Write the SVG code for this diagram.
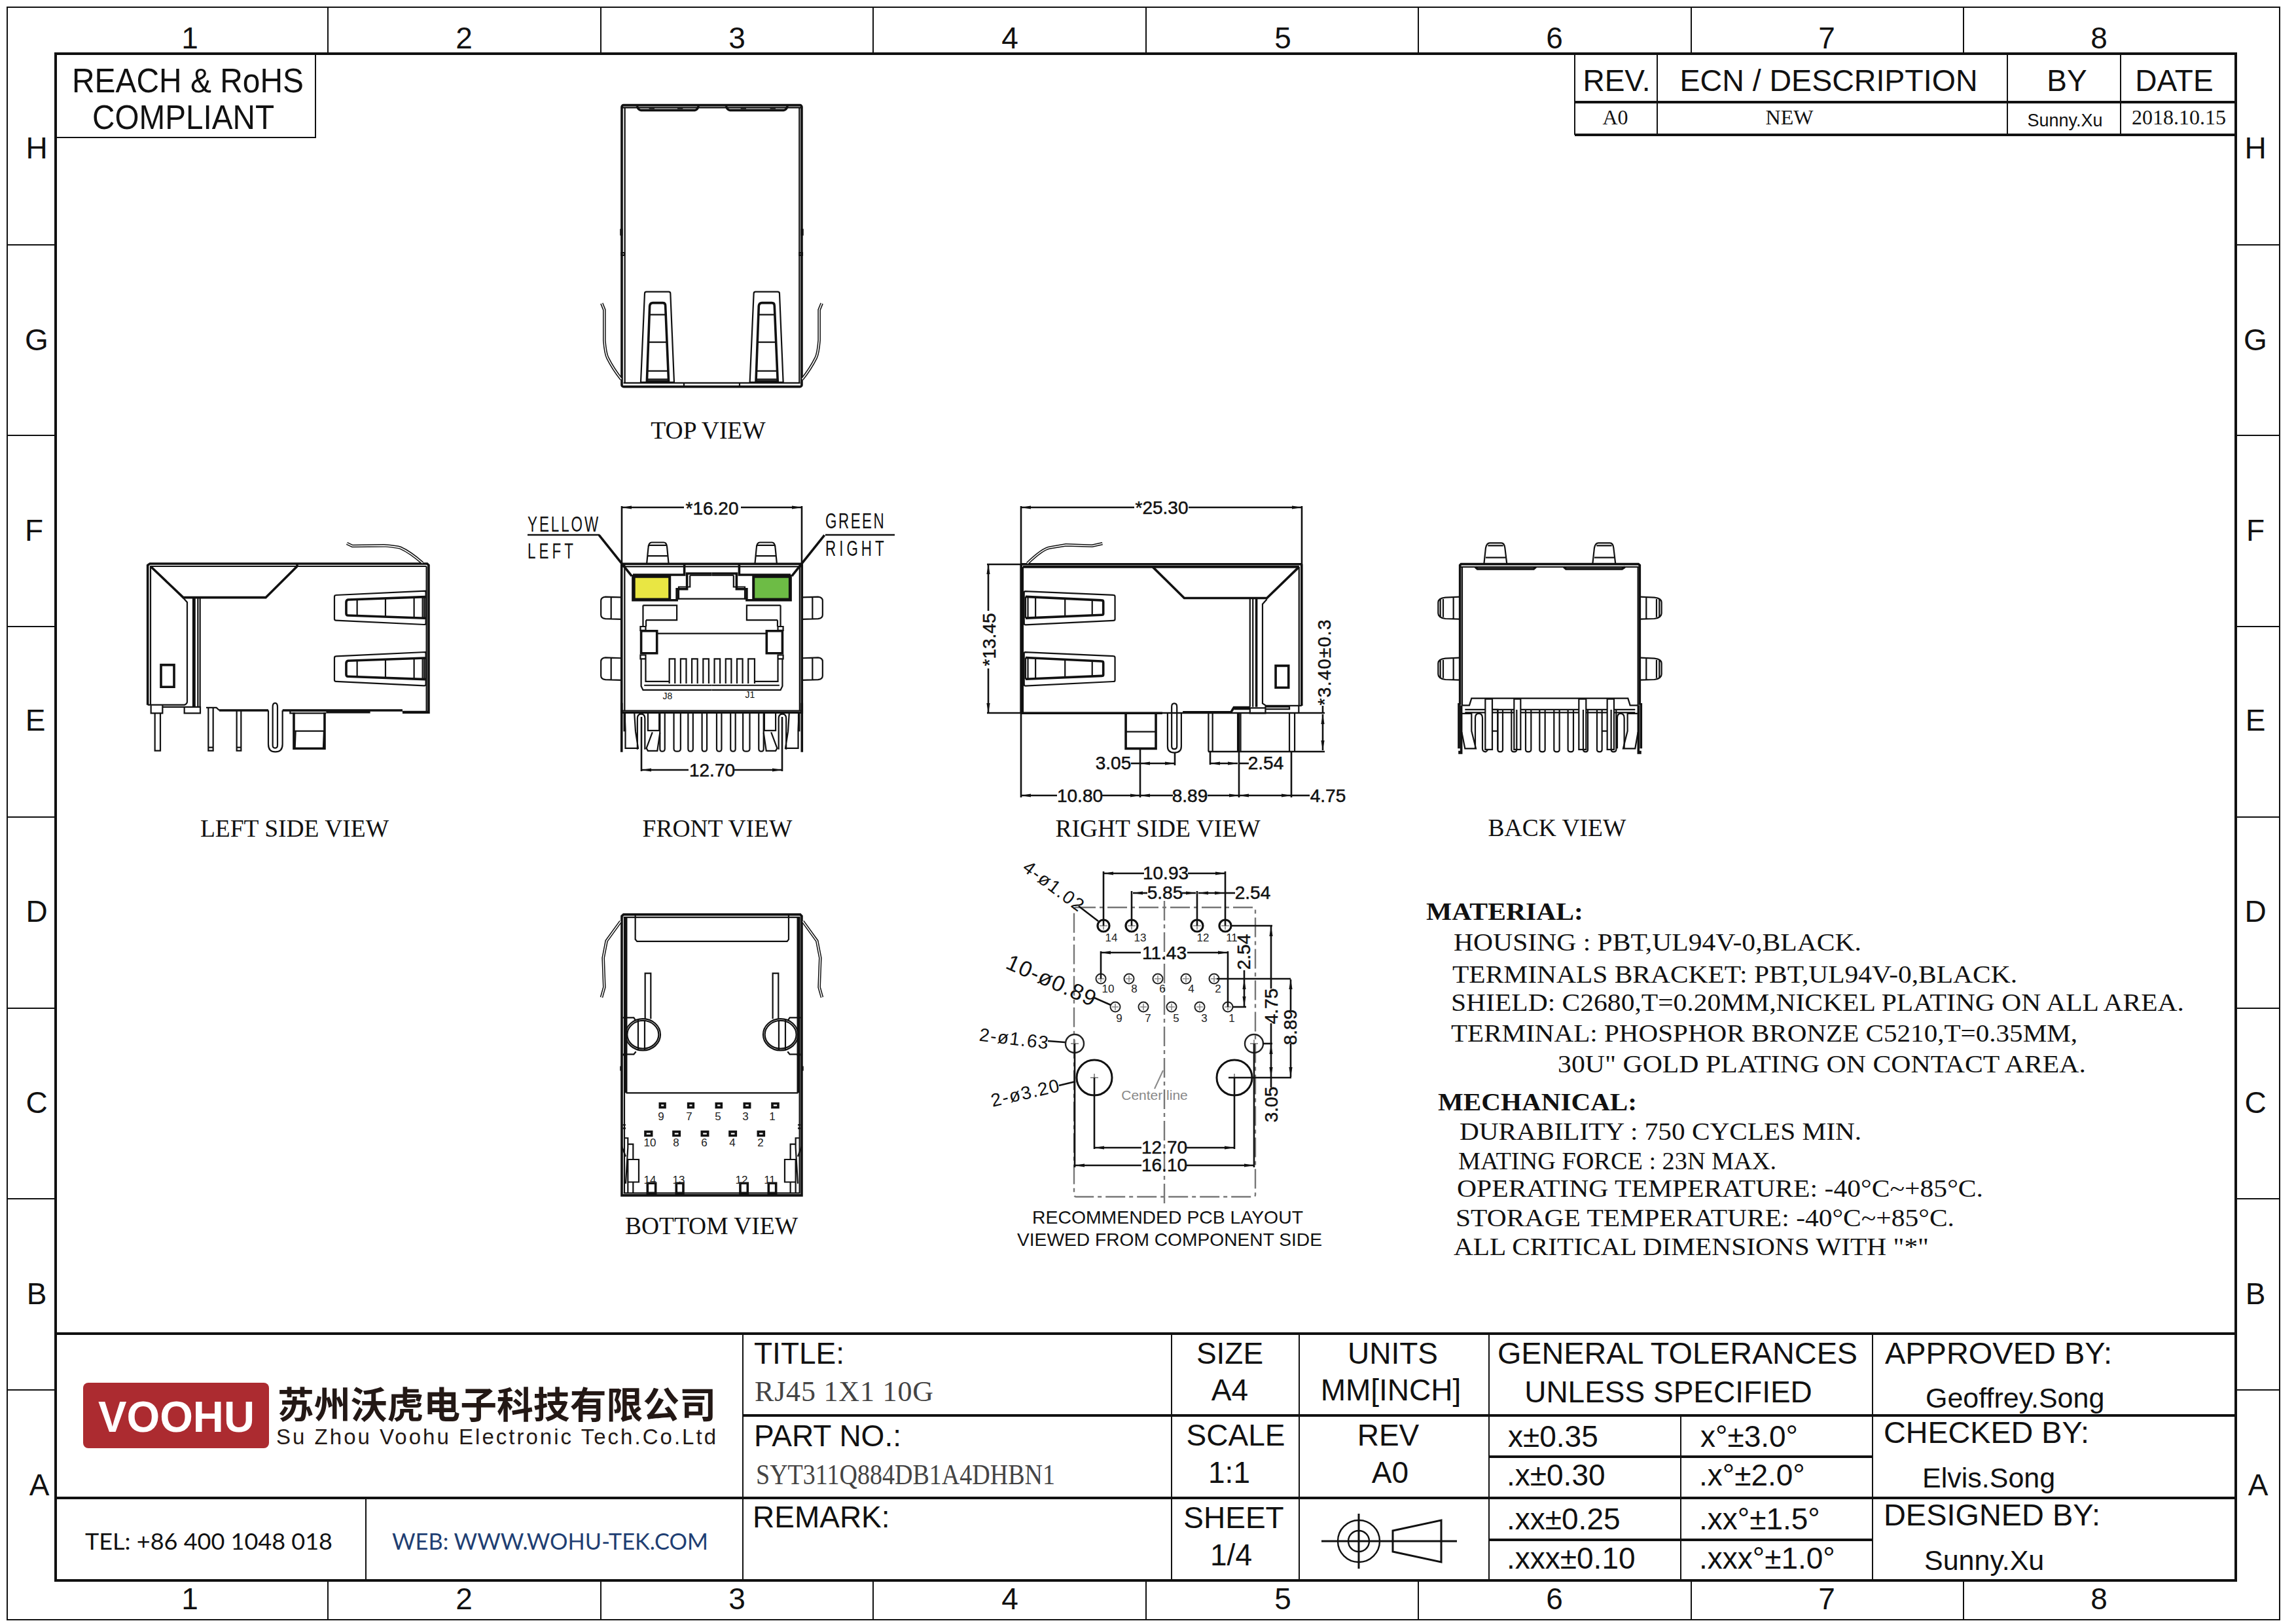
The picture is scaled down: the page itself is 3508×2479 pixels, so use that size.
<svg xmlns="http://www.w3.org/2000/svg" width="3508" height="2479" viewBox="0 0 3508 2479">
<style>
text{font-family:"Liberation Sans",Arial,sans-serif;fill:#111}
.s{font-family:"Liberation Serif","Times New Roman",serif}
.m{text-anchor:middle}
.zn{font-size:46px;text-anchor:middle}
.tb{font-size:46px}
.dim{font-size:28px;text-anchor:middle;stroke:#111;stroke-width:.5px}
.view{font-family:"Liberation Serif",serif;font-size:37.5px;text-anchor:middle}
.note{font-family:"Liberation Serif",serif;font-size:38px}
.pn{font-size:17px;text-anchor:middle;fill:#222}
.d path,.d rect,.d circle,.d ellipse,.d line{vector-effect:non-scaling-stroke;fill:none;stroke:#111;stroke-width:2.2}
.d .b{stroke-width:3.6}
.d .h{stroke-width:1.4}
.d .wa{stroke-width:4.6}
.d .wb{stroke:#fff;stroke-width:1.6}
.d .f{fill:#fff}
.fr line,.fr path,.fr rect{fill:none;stroke:#111;stroke-width:3}
.fr .t{stroke-width:4}
.fr .n{stroke-width:2}
.dl line{stroke:#111;stroke-width:2.6;fill:none}
.dl .a{marker-start:url(#ar)}
.dl .aa{marker-start:url(#ar);marker-end:url(#ar)}
</style>
<defs>
<marker id="ar" markerUnits="userSpaceOnUse" markerWidth="16" markerHeight="8" refX="15" refY="4" orient="auto-start-reverse"><path d="M15,4 L0,1.4 V6.6 Z" fill="#111"/></marker>
<g id="hs"><circle r="9" fill="none" stroke="#111" stroke-width="3.2"/><path d="M-6,0H6M0,-6V6" stroke="#888" stroke-width="1.6"/></g>
<g id="hm"><circle r="7.5" fill="none" stroke="#222" stroke-width="2"/><path d="M-5,0H5M0,-5V5" stroke="#888" stroke-width="1.6"/></g>
</defs>
<rect width="3508" height="2479" fill="#fff"/>

<g id="frame" class="fr">
<rect x="11" y="11" width="3472" height="2463" class="n"/>
<rect x="85" y="82" width="3331" height="2332" class="t"/>
<path class="n" d="M501,11V82M918,11V82M1334,11V82M1751,11V82M2167,11V82M2584,11V82M3000,11V82M501,2414V2474M918,2414V2474M1334,2414V2474M1751,2414V2474M2167,2414V2474M2584,2414V2474M3000,2414V2474"/>
<path class="n" d="M11,374H85M11,665H85M11,957H85M11,1248H85M11,1540H85M11,1831H85M11,2123H85M3416,374H3483M3416,665H3483M3416,957H3483M3416,1248H3483M3416,1540H3483M3416,1831H3483M3416,2123H3483"/>
<g>
<text class="zn" x="290" y="74">1</text><text class="zn" x="709" y="74">2</text><text class="zn" x="1126" y="74">3</text><text class="zn" x="1543" y="74">4</text><text class="zn" x="1960" y="74">5</text><text class="zn" x="2375" y="74">6</text><text class="zn" x="2791" y="74">7</text><text class="zn" x="3207" y="74">8</text>
<text class="zn" x="290" y="2458">1</text><text class="zn" x="709" y="2458">2</text><text class="zn" x="1126" y="2458">3</text><text class="zn" x="1543" y="2458">4</text><text class="zn" x="1960" y="2458">5</text><text class="zn" x="2375" y="2458">6</text><text class="zn" x="2791" y="2458">7</text><text class="zn" x="3207" y="2458">8</text>
<text class="zn" x="56" y="242">H</text><text class="zn" x="56" y="535">G</text><text class="zn" x="52" y="826">F</text><text class="zn" x="54" y="1116">E</text><text class="zn" x="56" y="1408">D</text><text class="zn" x="56" y="1700">C</text><text class="zn" x="56" y="1992">B</text><text class="zn" x="60" y="2284">A</text>
<text class="zn" x="3446" y="242">H</text><text class="zn" x="3446" y="535">G</text><text class="zn" x="3446" y="826">F</text><text class="zn" x="3446" y="1116">E</text><text class="zn" x="3446" y="1408">D</text><text class="zn" x="3446" y="1700">C</text><text class="zn" x="3446" y="1992">B</text><text class="zn" x="3450" y="2284">A</text>
</g>
</g>

<g id="compliance" class="fr">
<path class="n" d="M482,82V210H85"/>
<text font-size="52" x="110" y="141" textLength="354" lengthAdjust="spacingAndGlyphs">REACH &amp; RoHS</text>
<text font-size="52" x="141" y="197" textLength="278" lengthAdjust="spacingAndGlyphs">COMPLIANT</text>
</g>

<g id="revision-table" class="fr">
<path class="n" d="M2406,82V206M2532,82V206M3067,82V206M3240,82V206"/>
<path class="t" d="M2406,156H3416M2406,206H3416"/>
<text class="tb m" x="2470" y="139">REV.</text>
<text class="tb m" x="2794" y="139" textLength="455" lengthAdjust="spacingAndGlyphs">ECN / DESCRIPTION</text>
<text class="tb m" x="3158" y="139">BY</text>
<text class="tb m" x="3322" y="139">DATE</text>
<text class="s m" font-size="32" x="2468" y="190">A0</text>
<text class="s m" font-size="32" x="2734" y="190">NEW</text>
<text class="m" font-size="27" x="3155" y="193">Sunny.Xu</text>
<text class="s m" font-size="32" x="3329" y="190">2018.10.15</text>
</g>

<g id="top-view" class="d" transform="translate(880,140) scale(.3333)">
<rect x="210" y="62" width="825" height="1290" rx="8" class="b"/>
<path d="M224,72V1335M1024,72V1335M213,73H1032M218,1335H1028"/>
<path class="b" d="M280,66Q286,85 298,85H545Q556,85 562,66M688,66Q694,85 706,85H952Q964,85 970,66"/>
<path d="M335,76H360M465,76H490M755,76H780M890,76H915M495,1335V1350M750,1335V1350"/>
<rect x="205" y="632" width="6" height="24"/><rect x="1034" y="632" width="6" height="24"/><rect x="208" y="738" width="14" height="12"/><rect x="1024" y="738" width="14" height="12"/>
<g id="tv-win"><path d="M297,1332L315,925Q315,917 323,917H425Q433,917 433,925L450,1332Z"/><path d="M325,1332L338,982Q340,968 352,968H398Q410,968 410,982L425,1332" class="b"/><path d="M338,1022H408M332,1148H416M328,1280H423M325,1318H425M325,1326H425"/></g>
<use href="#tv-win" x="500"/>
<g id="tv-wire"><path class="wa" d="M118,970L130,1000V1140Q135,1200 145,1220Q170,1270 208,1318"/><path class="wb" d="M118,970L130,1000V1140Q135,1200 145,1220Q170,1270 208,1318"/></g>
<use href="#tv-wire" transform="matrix(-1 0 0 1 1245 0)"/>
</g>
<text class="view" x="1082" y="670">TOP VIEW</text>

<g id="left-side-view" class="d" transform="translate(180,780) scale(.3333)">
<path class="b" d="M137,890V250L147,243H1418L1425,250V925H1305M465,915H690M755,915H1305"/>
<path d="M150,255V890M147,255H1415M1415,255V920M137,890H305Q318,885 318,875V420L300,400"/>
<path class="b" d="M150,255L300,398H678L822,255M822,243V255"/>
<path d="M345,400V900M367,400V900M377,400V900"/><path class="b" d="M351,400V900"/>
<rect class="b" x="198" y="707" width="60" height="101"/>
<g id="ls-win"><path d="M1410,368L1000,387Q993,387 993,395V495Q993,503 1000,503L1405,522Q1412,522 1412,515V375Z"/><path class="b" d="M1410,395L1055,408Q1047,410 1047,420V470Q1047,480 1055,480L1410,493"/><path d="M1097,405V482M1227,400V488M1358,395V492M1397,395V493M1405,395V493"/></g>
<use href="#ls-win" y="280"/>
<g><path class="wa" d="M1050,150L1075,162L1220,160Q1280,165 1295,170Q1340,190 1397,240"/><path class="wb" d="M1050,150L1075,162L1220,160Q1280,165 1295,170Q1340,190 1397,240"/></g>
<path d="M152,892V928H205V892M305,900V928H378V900H305M205,900H305M405,903H452L465,915"/>
<path d="M170,928V1100H195V928M415,905V1100H437V905M415,1085H437M545,918V1100H565V918M545,1085H565"/>
<path d="M690,915V1070Q690,1105 722,1105Q755,1105 755,1070V915M710,900Q710,882 721,882Q732,882 732,900V1075Q732,1088 721,1088Q710,1088 710,1075Z"/>
<path class="b" d="M807,925V1090H948V925"/><path d="M807,1010H948M790,917H955M790,917V928H955M815,1010L812,1088M945,1010L942,1088"/>
<path class="b" d="M955,923H1157"/><path class="b" d="M1305,923H1425"/>
</g>
<text class="view" x="450" y="1278">LEFT SIDE VIEW</text>

<g id="front-view" class="d" transform="translate(750,700) scale(.574,.3954)">
<path class="b" d="M348,408H828M348,408V982H828V408M348,982V975"/>
<path d="M356,408V975M822,408V975M348,418H828M348,975H828"/>
<g id="fv-mirror">
<path d="M415,405L419,345Q420,325 428,325H460Q468,325 469,345L473,405M417,377H471M420,336H468"/>
<path d="M348,537L305,535Q293,537 293,550V605Q293,618 305,620L348,622M320,537V620"/>
<path d="M348,772L305,770Q293,772 293,785V840Q293,853 305,855L348,857M320,772V855"/>
<path class="b" d="M288,297L375,455"/>
<path class="b" d="M348,945V1135M356,985V1055"/>
<path d="M356,985L358,1050V1120H392L385,1055L382,985M390,1125V1005Q390,988 400,988Q410,988 410,1005V1125M418,985V1052H448V985M430,1058L414,1120L418,1130H443L450,1060"/>
<path d="M450,985V1122Q450,1132 456,1132Q463,1132 463,1122V985M487,985V1122Q487,1132 496,1132Q505,1132 505,1122V985M525,985V1122Q525,1132 531,1132Q538,1132 538,1122V985M562,985V1122Q562,1132 568,1132Q575,1132 575,1122V985"/>
<path class="b" d="M378,450H515V408M378,450V548H495V505H522V445H588"/>
<path d="M530,452H588M530,452V497H500V545M405,568H495V625H413M405,568V650M413,625V650M398,650H412V665H398Z"/>
<rect class="b" x="400" y="667" width="42" height="86"/>
<path d="M398,760H412V775H398ZM400,775V880L405,895H588M412,775V862H475M408,877H588"/>
</g>
<use href="#fv-mirror" transform="matrix(-1 0 0 1 1176 0)"/>
<path d="M442,677H735M497,543H680"/>
<path d="M475,870V775H490V870M505,870V775H520V870M535,870V775H550V870M565,870V775H580V870M595,870V775H610V870M625,870V775H640V870M655,870V775H670V870M685,870V775H702V870"/>
<rect x="381" y="457" width="95" height="88" style="fill:#E9E643;stroke-width:4"/>
<rect x="699" y="457" width="97" height="88" style="fill:#6DBC45;stroke-width:4"/>
</g>
<text font-size="14" class="m" x="1020" y="1068">J8</text><text font-size="14" class="m" x="1146" y="1066">J1</text>
<text transform="translate(806,812) scale(.68,1)" font-size="33" textLength="159">YELLOW</text>
<text transform="translate(806,853) scale(.68,1)" font-size="33" textLength="103">LEFT</text>
<text transform="translate(1261,807) scale(.68,1)" font-size="33" textLength="132">GREEN</text>
<text transform="translate(1261,849) scale(.68,1)" font-size="33" textLength="132">RIGHT</text>
<g class="dl"><line x1="806" y1="817" x2="916" y2="817"/><line x1="1261" y1="817" x2="1367" y2="817"/></g>
<text class="view" x="1096" y="1278">FRONT VIEW</text>

<g id="right-side-view" class="d" transform="translate(1450,740) scale(.4464,.3448)">
<path class="b" d="M247,353H1207M247,353V1013M253,365H1198M1207,353V980M247,1013H730M800,1009H965L975,988H1030"/>
<path d="M253,365V1010M1198,365V980"/>
<path class="wa" d="M268,350Q320,285 345,280L400,268L490,272L525,262"/><path class="wb" d="M268,350Q320,285 345,280L400,268L490,272L525,262"/>
<path class="b" d="M697,365L805,503H1088L1198,365"/>
<path d="M1030,505V985M1040,505V985M1088,508L1073,530V970L1085,980H1207M1030,990H1083V1013H1030ZM1083,985H1165V995H1083ZM975,995H1030M1197,980V1013"/><path class="b" d="M1052,505V985"/>
<rect class="b" x="1118" y="803" width="44" height="97"/>
<g id="rs-win"><path d="M260,473L562,490Q568,490 568,497V597Q568,603 562,603L262,622Q257,622 257,615V480Q257,473 260,473Z"/><path class="b" d="M262,497L522,513Q528,513 528,520V573Q528,578 522,578L262,592"/><path d="M262,497V592M270,497V592M296,499V590M397,505V585M490,511V580"/></g>
<use href="#rs-win" y="270"/>
<path class="b" d="M605,1013V1170H708V1013"/><path d="M605,1095H708"/>
<path d="M748,1013V1160Q748,1188 771,1188Q795,1188 795,1160V1013M762,985Q762,970 771,970Q780,970 780,985V1160Q780,1172 771,1172Q762,1172 762,1160Z"/>
<path d="M888,1013V1183M902,1013V1183M988,1013V1183M998,1013V1183M1165,1013V1183M1183,1013V1183"/>
</g>
<text class="view" x="1769" y="1278">RIGHT SIDE VIEW</text>

<g id="back-view" class="d" transform="translate(2180,800) scale(.3333)">
<path class="b" d="M152,830V190L157,185H970L976,190V830"/>
<path d="M162,198V832M968,198V832M155,198H972"/>
<path class="b" d="M222,198L232,207H490L500,198M628,198L638,207H895L908,198"/>
<g id="bv-top"><path d="M262,185L270,110Q275,88 288,88H342Q355,88 358,110L367,185M280,100H350M270,155H360"/></g>
<use href="#bv-top" x="498"/>
<g id="bv-side"><path d="M150,335L85,338Q52,342 52,360V410Q52,430 85,435L150,437M62,345V428M122,338V435M75,345V428"/></g>
<use href="#bv-side" y="279"/>
<use href="#bv-side" transform="matrix(-1 0 0 1 1128 0)"/>
<use href="#bv-side" transform="matrix(-1 0 0 1 1128 279)"/>
<path d="M162,832H195L205,800H922L932,832H968M175,852H955M175,865H955"/>
<path class="b" d="M147,822V1030M158,832V1050H150V1040M982,822V1030M970,832V1050H978V1040"/>
<path d="M160,870H205V950L225,1030H175L160,955M968,870H920V950L900,1030H955L968,955"/>
<path d="M222,1030V890Q222,870 238,870Q255,870 255,890V1030Q255,1045 270,1045Q280,1040 280,1030V852M873,1030V890Q873,870 888,870Q905,870 905,890V1030"/>
<path class="f" d="M268,803V1035H300V803ZM400,803V1035H430V803ZM697,803V1035H730V803ZM827,803V1035H858V803Z"/>
<path d="M325,852V1035Q325,1045 336,1045Q348,1045 348,1035V852M388,852V1035Q388,1045 400,1045Q412,1045 412,1035V852M453,852V1035Q453,1045 465,1045Q478,1045 478,1035V852M517,852V1035Q517,1045 530,1045Q542,1045 542,1035V852M583,852V1035Q583,1045 596,1045Q608,1045 608,1035V852M647,852V1035Q647,1045 660,1045Q672,1045 672,1035V852M717,852V1035Q717,1045 728,1045Q738,1045 738,1035V852M780,852V1035Q780,1045 792,1045Q803,1045 803,1035V852M845,852V1035Q845,1045 856,1045Q868,1045 868,1035V852"/>
<path d="M302,852H325V1035M302,950H325M803,950H825"/>
</g>
<text class="view" x="2379" y="1277">BACK VIEW</text>

<g id="bottom-view" class="d" transform="translate(880,1370) scale(.3333,.3448)">
<path class="b" d="M210,85L218,78H1028L1035,85V1322H210Z"/>
<path d="M222,90V1312M1025,90V1312M218,90H1028M218,1312H1028"/><path class="b" d="M230,90V868M1018,90V868"/>
<path d="M272,80V188L280,197H968L975,188V80M230,868H1018"/>
<g id="bv-wire"><path class="wa" d="M205,108L140,195L125,270L130,400L117,445"/><path class="wb" d="M205,108L140,195L125,270L130,400L117,445"/></g>
<use href="#bv-wire" transform="matrix(-1 0 0 1 1245 0)"/>
<g id="bv-hold"><path d="M317,540V338H343V540"/><path d="M215,535H265L272,545M215,697H265L275,685M285,545V680M315,545V680M215,700H232"/><ellipse cx="307" cy="610" rx="80" ry="70"/><ellipse cx="307" cy="610" rx="72" ry="62"/></g>
<use href="#bv-hold" transform="matrix(-1 0 0 1 1245 0)"/>
<g id="bv-side2"><path d="M222,1068H238V1110L228,1270M238,1095H262V1163M238,1163H288V1263H238ZM238,1263V1312M262,1263V1312M210,1105L228,1150M215,1010H228M215,1025H228M205,750V770"/></g>
<use href="#bv-side2" transform="matrix(-1 0 0 1 1245 0)"/>
<path class="b" d="M385,915h23v17h-23ZM515,915h23v17h-23ZM643,915h24v17h-24ZM772,915h25v17h-25ZM900,915h27v17h-27ZM318,1040h29v17h-29ZM447,1040h28v17h-28ZM577,1040h28v17h-28ZM705,1040h28v17h-28ZM835,1040h27v17h-27Z"/>
<path class="b" d="M328,1268h37v44h-37ZM460,1268h32v44h-32ZM753,1268h34v44h-34ZM883,1268h34v44h-34Z"/>
</g>
<g id="bottom-pin-labels">
<text class="pn" x="1010" y="1711">9</text><text class="pn" x="1053" y="1711">7</text><text class="pn" x="1097" y="1711">5</text><text class="pn" x="1139" y="1711">3</text><text class="pn" x="1180" y="1711">1</text>
<text class="pn" x="993" y="1751">10</text><text class="pn" x="1033" y="1751">8</text><text class="pn" x="1076" y="1751">6</text><text class="pn" x="1119" y="1751">4</text><text class="pn" x="1162" y="1751">2</text>
<text class="pn" x="993" y="1808">14</text><text class="pn" x="1037" y="1808">13</text><text class="pn" x="1133" y="1808">12</text><text class="pn" x="1176" y="1808">11</text>
</g>
<text class="view" x="1087" y="1885">BOTTOM VIEW</text>

<g id="pcb-layout">
<rect x="1641" y="1386" width="277" height="442" rx="3" fill="none" stroke="#777" stroke-width="2.4" stroke-dasharray="30 6 6 6"/>
<line x1="1779" y1="1376" x2="1779" y2="1838" stroke="#777" stroke-width="2.4" stroke-dasharray="30 6 6 6"/>
<use href="#hs" x="1686" y="1414"/><use href="#hs" x="1729" y="1414"/><use href="#hs" x="1829" y="1414"/><use href="#hs" x="1872" y="1414"/>
<use href="#hm" x="1682" y="1495"/><use href="#hm" x="1725" y="1495"/><use href="#hm" x="1769" y="1495"/><use href="#hm" x="1812" y="1495"/><use href="#hm" x="1855" y="1495"/>
<use href="#hm" x="1704" y="1538"/><use href="#hm" x="1747" y="1538"/><use href="#hm" x="1790" y="1538"/><use href="#hm" x="1833" y="1538"/><use href="#hm" x="1876" y="1538"/>
<g fill="none" stroke="#222" stroke-width="2.4"><circle cx="1642" cy="1594" r="14"/><circle cx="1916" cy="1594" r="14"/></g>
<g fill="none" stroke="#111" stroke-width="3"><circle cx="1672" cy="1646" r="27"/><circle cx="1886" cy="1646" r="27"/></g>
<path d="M1636,1594H1648M1642,1588V1600M1910,1594H1922M1916,1588V1600M1666,1646H1678M1672,1640V1652M1880,1646H1892M1886,1640V1652" stroke="#777" stroke-width="1.6"/>
<text class="pn" x="1698" y="1438">14</text><text class="pn" x="1742" y="1438">13</text><text class="pn" x="1838" y="1438">12</text><text class="pn" x="1882" y="1438">11</text>
<text class="pn" x="1693" y="1516">10</text><text class="pn" x="1733" y="1516">8</text><text class="pn" x="1776" y="1516">6</text><text class="pn" x="1820" y="1516">4</text><text class="pn" x="1861" y="1516">2</text>
<text class="pn" x="1710" y="1561">9</text><text class="pn" x="1754" y="1561">7</text><text class="pn" x="1797" y="1561">5</text><text class="pn" x="1840" y="1561">3</text><text class="pn" x="1882" y="1561">1</text>
<text class="m" font-size="21" x="1764" y="1680" style="fill:#888">Center line</text>
<line x1="1764" y1="1663" x2="1777" y2="1635" stroke="#888" stroke-width="2"/>
<text class="m" font-size="28" x="1784" y="1869" textLength="414" lengthAdjust="spacingAndGlyphs">RECOMMENDED PCB LAYOUT</text>
<text class="m" font-size="28" x="1787" y="1903" textLength="466" lengthAdjust="spacingAndGlyphs">VIEWED FROM COMPONENT SIDE</text>
<text class="m" font-size="28" transform="translate(1610,1353) rotate(37)" y="10" textLength="108">4-ø1.02</text>
<text class="m" font-size="34" transform="translate(1606,1498) rotate(24)" y="11" textLength="146">10-ø0.89</text>
<text class="m" font-size="28" transform="translate(1549,1586) rotate(7)" y="10" textLength="106">2-ø1.63</text>
<text class="m" font-size="28" transform="translate(1566,1669) rotate(-13)" y="10" textLength="106">2-ø3.20</text>
</g>

<g id="connectors" class="dl">
<line x1="950" y1="773" x2="950" y2="861"/><line x1="1225" y1="773" x2="1225" y2="861"/>
<line class="a" x1="950" y1="775" x2="1045" y2="775"/><line class="a" x1="1225" y1="775" x2="1132" y2="775"/>
<line x1="980" y1="1095" x2="980" y2="1178"/><line x1="1195" y1="1095" x2="1195" y2="1178"/>
<line class="a" x1="980" y1="1176" x2="1052" y2="1176"/><line class="a" x1="1195" y1="1176" x2="1122" y2="1176"/>
<line x1="1560" y1="773" x2="1560" y2="1218"/><line x1="1989" y1="773" x2="1989" y2="862"/>
<line class="a" x1="1560" y1="775" x2="1733" y2="775"/><line class="a" x1="1989" y1="775" x2="1816" y2="775"/>
<line x1="1508" y1="862" x2="1560" y2="862"/><line x1="1508" y1="1089" x2="2024" y2="1089"/><line x1="1846" y1="1148" x2="2024" y2="1148"/>
<line class="a" x1="1510" y1="862" x2="1510" y2="933"/><line class="a" x1="1510" y1="1089" x2="1510" y2="1021"/>
<line class="aa" x1="2021" y1="1091" x2="2021" y2="1146"/><line x1="2021" y1="1078" x2="2021" y2="1089"/>
<line x1="1742" y1="1143" x2="1742" y2="1218"/><line x1="1893" y1="1089" x2="1893" y2="1218"/><line x1="1973" y1="1148" x2="1973" y2="1218"/>
<line class="a" x1="1560" y1="1215" x2="1615" y2="1215"/><line class="a" x1="1742" y1="1215" x2="1684" y2="1215"/>
<line class="a" x1="1742" y1="1215" x2="1792" y2="1215"/><line class="a" x1="1893" y1="1215" x2="1845" y2="1215"/>
<line class="aa" x1="1893" y1="1215" x2="1973" y2="1215"/><line x1="1973" y1="1215" x2="2001" y2="1215"/>
<line x1="1728" y1="1166" x2="1742" y2="1166"/><line class="aa" x1="1742" y1="1166" x2="1795" y2="1166"/><line x1="1795" y1="1150" x2="1795" y2="1169"/>
<line class="aa" x1="1849" y1="1166" x2="1891" y2="1166"/><line x1="1893" y1="1166" x2="1908" y2="1166"/><line x1="1849" y1="1148" x2="1849" y2="1168"/>
<line x1="1686" y1="1331" x2="1686" y2="1414"/><line x1="1872" y1="1331" x2="1872" y2="1414"/>
<line class="a" x1="1686" y1="1334" x2="1748" y2="1334"/><line class="a" x1="1872" y1="1334" x2="1815" y2="1334"/>
<line x1="1729" y1="1361" x2="1729" y2="1414"/><line x1="1829" y1="1361" x2="1829" y2="1414"/>
<line class="a" x1="1731" y1="1364" x2="1753" y2="1364"/><line class="a" x1="1827" y1="1364" x2="1806" y2="1364"/>
<line class="aa" x1="1831" y1="1364" x2="1871" y2="1364"/><line x1="1872" y1="1364" x2="1887" y2="1364"/>
<line x1="1682" y1="1453" x2="1682" y2="1495"/><line x1="1876" y1="1453" x2="1876" y2="1538"/>
<line class="a" x1="1682" y1="1455" x2="1743" y2="1455"/><line class="a" x1="1876" y1="1455" x2="1814" y2="1455"/>
<line x1="1859" y1="1495" x2="1972" y2="1495"/><line x1="1883" y1="1538" x2="1904" y2="1538"/>
<line class="aa" x1="1901" y1="1496" x2="1901" y2="1537"/><line x1="1901" y1="1482" x2="1901" y2="1496"/>
<line x1="1881" y1="1414" x2="1944" y2="1414"/><line x1="1929" y1="1594" x2="1944" y2="1594"/>
<line class="a" x1="1942" y1="1415" x2="1942" y2="1510"/><line x1="1942" y1="1563" x2="1942" y2="1594"/>
<line class="aa" x1="1942" y1="1595" x2="1942" y2="1645"/><line x1="1942" y1="1645" x2="1942" y2="1661"/>
<line x1="1877" y1="1646" x2="1973" y2="1646"/>
<line class="a" x1="1972" y1="1496" x2="1972" y2="1543"/><line class="a" x1="1972" y1="1645" x2="1972" y2="1594"/>
<line x1="1672" y1="1646" x2="1672" y2="1755"/><line x1="1886" y1="1646" x2="1886" y2="1755"/>
<line class="a" x1="1672" y1="1753" x2="1744" y2="1753"/><line class="a" x1="1886" y1="1753" x2="1813" y2="1753"/>
<line x1="1642" y1="1594" x2="1642" y2="1783"/><line x1="1916" y1="1594" x2="1916" y2="1783"/>
<line class="a" x1="1642" y1="1780" x2="1744" y2="1780"/><line class="a" x1="1916" y1="1780" x2="1813" y2="1780"/>
<line x1="1648" y1="1384" x2="1678" y2="1407"/><line x1="1672" y1="1524" x2="1697" y2="1535"/><line x1="1601" y1="1590" x2="1627" y2="1592"/><line x1="1618" y1="1658" x2="1643" y2="1652"/>
</g>
<g id="dimension-labels">
<text class="dim" x="1088" y="786">*16.20</text><text class="dim" x="1088" y="1186">12.70</text>
<text class="dim" x="1775" y="785">*25.30</text>
<text class="dim" transform="translate(1521,977) rotate(-90)">*13.45</text>
<text class="dim" transform="translate(2033,1012) rotate(-90)" textLength="131">*3.40±0.3</text>
<text class="dim" x="1650" y="1225">10.80</text><text class="dim" x="1818" y="1225">8.89</text><text class="dim" x="2029" y="1225">4.75</text>
<text class="dim" x="1701" y="1175">3.05</text><text class="dim" x="1934" y="1175">2.54</text>
<text class="dim" x="1781" y="1343">10.93</text><text class="dim" x="1780" y="1373">5.85</text><text class="dim" x="1914" y="1373">2.54</text>
<text class="dim" x="1779" y="1465">11.43</text><text class="dim" x="1779" y="1762">12.70</text><text class="dim" x="1779" y="1789">16.10</text>
<text class="dim" transform="translate(1910,1454) rotate(-90)">2.54</text>
<text class="dim" transform="translate(1952,1537) rotate(-90)">4.75</text>
<text class="dim" transform="translate(1952,1687) rotate(-90)">3.05</text>
<text class="dim" transform="translate(1981,1569) rotate(-90)">8.89</text>
</g>

<g id="notes">
<text class="note" font-weight="bold" x="2179" y="1405" textLength="240" lengthAdjust="spacingAndGlyphs">MATERIAL:</text>
<text class="note" x="2221" y="1452" textLength="623" lengthAdjust="spacingAndGlyphs">HOUSING : PBT,UL94V-0,BLACK.</text>
<text class="note" x="2219" y="1501" textLength="863" lengthAdjust="spacingAndGlyphs">TERMINALS BRACKET: PBT,UL94V-0,BLACK.</text>
<text class="note" x="2217" y="1544" textLength="1120" lengthAdjust="spacingAndGlyphs">SHIELD: C2680,T=0.20MM,NICKEL PLATING ON ALL AREA.</text>
<text class="note" x="2217" y="1591" textLength="957" lengthAdjust="spacingAndGlyphs">TERMINAL: PHOSPHOR BRONZE C5210,T=0.35MM,</text>
<text class="note" x="2380" y="1638" textLength="807" lengthAdjust="spacingAndGlyphs">30U" GOLD PLATING ON CONTACT AREA.</text>
<text class="note" font-weight="bold" x="2197" y="1696" textLength="304" lengthAdjust="spacingAndGlyphs">MECHANICAL:</text>
<text class="note" x="2230" y="1741" textLength="614" lengthAdjust="spacingAndGlyphs">DURABILITY : 750 CYCLES MIN.</text>
<text class="note" font-size="34" x="2228" y="1786" textLength="486" lengthAdjust="spacingAndGlyphs">MATING FORCE : 23N MAX.</text>
<text class="note" x="2226" y="1828" textLength="804" lengthAdjust="spacingAndGlyphs">OPERATING TEMPERATURE: -40°C~+85°C.</text>
<text class="note" x="2224" y="1873" textLength="762" lengthAdjust="spacingAndGlyphs">STORAGE TEMPERATURE: -40°C~+85°C.</text>
<text class="note" x="2221" y="1917" textLength="726" lengthAdjust="spacingAndGlyphs">ALL CRITICAL DIMENSIONS WITH "*"</text>
</g>

<g id="title-block" class="fr">
<path class="t" d="M85,2037H3416"/>
<path class="n" d="M1135,2037V2414M1790,2037V2414M1985,2037V2414M2275,2037V2414M2861,2037V2414M2568,2162V2414M559,2288V2414"/>
<path class="t" d="M1135,2162H3416M85,2288H3416M2275,2225H2861M2275,2352H2861"/>
<text class="tb" x="1152" y="2083">TITLE:</text>
<text class="s" font-size="44" x="1153" y="2140" textLength="273" lengthAdjust="spacing" style="fill:#444">RJ45 1X1 10G</text>
<text class="tb" x="1152" y="2209">PART NO.:</text>
<text class="s" font-size="44" x="1155" y="2267" textLength="457" lengthAdjust="spacingAndGlyphs" style="fill:#444">SYT311Q884DB1A4DHBN1</text>
<text class="tb" x="1150" y="2333">REMARK:</text>
<text class="tb m" x="1879" y="2083">SIZE</text><text class="tb m" x="1879" y="2139">A4</text>
<text class="tb m" x="2128" y="2083">UNITS</text><text class="tb m" x="2125" y="2139">MM[INCH]</text>
<text class="tb m" x="2563" y="2083" textLength="550" lengthAdjust="spacingAndGlyphs">GENERAL TOLERANCES</text><text class="tb m" x="2549" y="2142">UNLESS SPECIFIED</text>
<text class="tb" x="2880" y="2083" textLength="347" lengthAdjust="spacingAndGlyphs">APPROVED BY:</text><text font-size="43" x="2942" y="2150">Geoffrey.Song</text>
<text class="tb m" x="1888" y="2208">SCALE</text><text class="tb m" x="1878" y="2265">1:1</text>
<text class="tb m" x="2121" y="2208">REV</text><text class="tb m" x="2124" y="2265">A0</text>
<text class="tb" x="2304" y="2210">x±0.35</text><text class="tb" x="2598" y="2210">x°±3.0°</text>
<text class="tb" x="2302" y="2269">.x±0.30</text><text class="tb" x="2596" y="2269">.x°±2.0°</text>
<text class="tb" x="2302" y="2336">.xx±0.25</text><text class="tb" x="2596" y="2336">.xx°±1.5°</text>
<text class="tb" x="2302" y="2396">.xxx±0.10</text><text class="tb" x="2596" y="2396">.xxx°±1.0°</text>
<text class="tb" x="2878" y="2204" textLength="314" lengthAdjust="spacingAndGlyphs">CHECKED BY:</text><text font-size="43" x="2937" y="2272">Elvis.Song</text>
<text class="tb" x="2878" y="2330" textLength="331" lengthAdjust="spacingAndGlyphs">DESIGNED BY:</text><text font-size="43" x="2940" y="2398">Sunny.Xu</text>
<text class="tb m" x="1885" y="2334">SHEET</text><text class="tb m" x="1881" y="2391">1/4</text>
<g id="projection-symbol" fill="none" stroke="#111" stroke-width="2.4">
<circle cx="2076" cy="2354" r="32"/><circle cx="2076" cy="2354" r="16"/>
<path d="M2076,2312V2396"/><path d="M2019,2354H2226" stroke-width="3.6"/>
<path d="M2128,2338L2202,2322V2386L2128,2370Z"/>
</g>
<g id="logo">
<rect x="127" y="2112" width="284" height="100" rx="8" style="fill:#AC2B30;stroke:none"/>
<text font-size="66" font-weight="bold" x="150" y="2187" textLength="239" lengthAdjust="spacingAndGlyphs" style="fill:#fff">VOOHU</text>
<text font-size="56" font-weight="bold" x="424" y="2166" textLength="670" lengthAdjust="spacingAndGlyphs" style='font-family:"Noto Sans CJK SC",sans-serif;fill:#231815'>苏州沃虎电子科技有限公司</text>
<text font-size="33" x="422" y="2206" textLength="672" lengthAdjust="spacing" style="fill:#231815">Su Zhou Voohu Electronic Tech.Co.Ltd</text>
</g>
<text font-size="35" x="130" y="2367" textLength="378" lengthAdjust="spacingAndGlyphs" style='font-family:Lato,sans-serif'>TEL: +86 400 1048 018</text>
<text font-size="35" x="599" y="2367" textLength="483" lengthAdjust="spacingAndGlyphs" style='font-family:Lato,sans-serif;fill:#1F3F73'>WEB: WWW.WOHU-TEK.COM</text>
</g>
</svg>
